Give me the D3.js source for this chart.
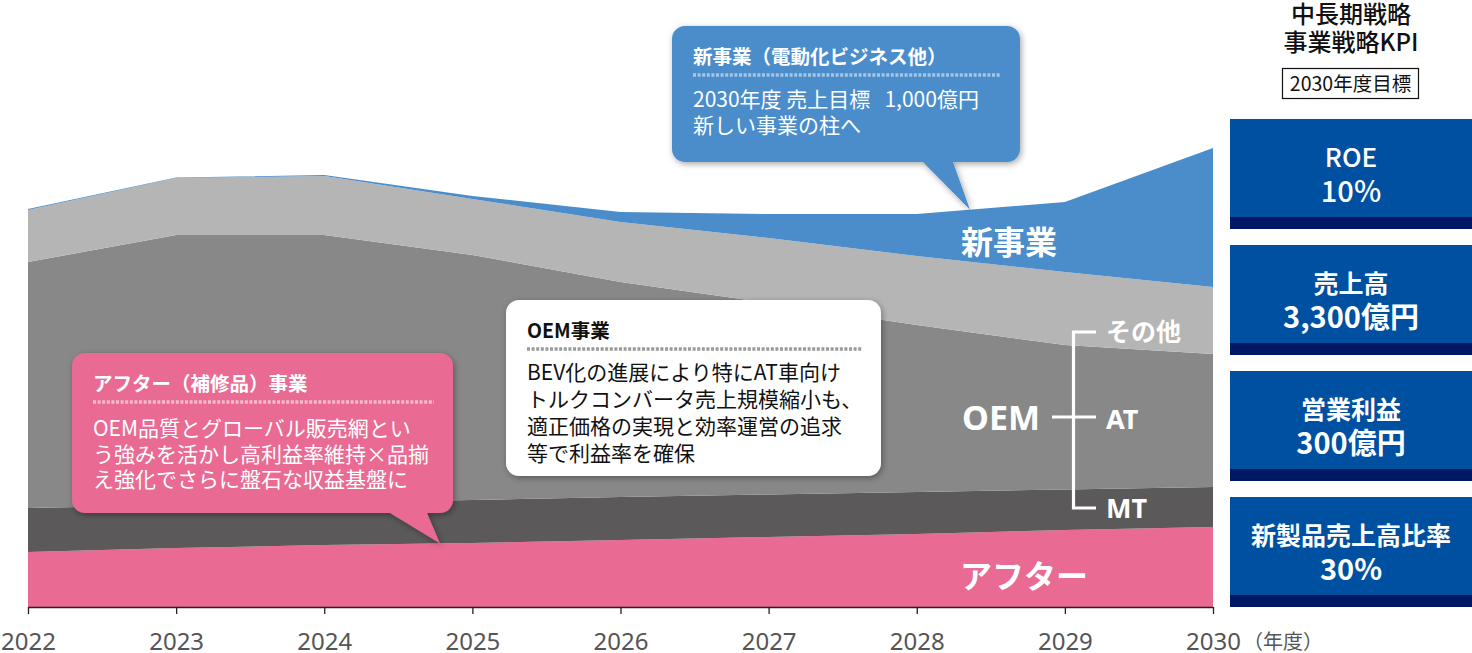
<!DOCTYPE html>
<html>
<head>
<meta charset="utf-8">
<script src="https://cdn.jsdelivr.net/npm/d3@7"></script>
<style>
  html, body { margin: 0; padding: 0; background: #fff; }
  svg { display: block; font-family: "Noto Sans CJK JP", "Noto Sans", sans-serif; }
</style>
</head>
<body>
<svg id="chart" width="1472" height="653"></svg>
<script>
// ---------------- DATA ----------------
const years = [2022, 2023, 2024, 2025, 2026, 2027, 2028, 2029, 2030];
const afterVals  = [55, 59, 62, 64, 67, 70, 73, 77, 80];          // アフター
const mtVals     = [44, 43, 42.5, 43, 43, 42.5, 42, 40.5, 40];    // MT
const atVals     = [246, 270, 267.5, 245, 215, 191.5, 167, 144.5, 133]; // AT
const otherVals  = [52, 57, 59, 56, 60, 65, 69, 73, 67];          // その他
const newBizVals = [1, 0.5, 1, 3, 10, 24, 42, 70, 139];           // 新事業
const seriesKeys = ["after", "mt", "at", "other", "newbiz"];
const seriesColors = ["#E96A93", "#5B5959", "#888888", "#B4B5B4", "#4B8DCB"];
const tickLabels = ["2022", "2023", "2024", "2025", "2026", "2027", "2028", "2029", "2030"];
const axisUnit = "（年度）";

const kpiTitle = ["中長期戦略", "事業戦略KPI"];
const kpiTarget = "2030年度目標";
const kpiNames = ["ROE", "売上高", "営業利益", "新製品売上高比率"];
const kpiValues = ["10%", "3,300億円", "300億円", "30%"];

const newBizTitle = "新事業（電動化ビジネス他）";
const newBizLines = ["2030年度 売上目標\u00a0\u00a0\u00a01,000億円", "新しい事業の柱へ"];
const oemTitle = "OEM事業";
const oemLines = ["BEV化の進展により特にAT車向け", "トルクコンバータ売上規模縮小も、", "適正価格の実現と効率運営の追求", "等で利益率を確保"];
const afterTitle = "アフター（補修品）事業";
const afterLines = ["OEM品質とグローバル販売網とい", "う強みを活かし高利益率維持×品揃", "え強化でさらに盤石な収益基盤に"];

// ---------------- SETUP ----------------
const svg = d3.select("#chart");
const x = d3.scaleLinear().domain([2022, 2030]).range([28, 1213]);
const y = d3.scaleLinear().domain([0, 460]).range([607, 147]);

const table = years.map((yr, i) => ({
  year: yr, after: afterVals[i], mt: mtVals[i], at: atVals[i], other: otherVals[i], newbiz: newBizVals[i]
}));
const stack = d3.stack().keys(seriesKeys)(table);

const defs = svg.append("defs");
const shadow = defs.append("filter").attr("id", "shadow")
  .attr("x", "-10%").attr("y", "-10%").attr("width", "120%").attr("height", "130%");
shadow.append("feDropShadow").attr("dx", 1.5).attr("dy", 2).attr("stdDeviation", 3)
  .attr("flood-color", "#000").attr("flood-opacity", 0.35);

// ---------------- AREAS ----------------
const area = d3.area()
  .x(d => x(d.data.year))
  .y0(d => y(d[0]))
  .y1(d => y(d[1]));

svg.append("g").selectAll("path")
  .data(stack)
  .join("path")
  .attr("d", area)
  .attr("fill", (d, i) => seriesColors[i]);

// top value of a layer at arbitrary x (pixel)
function layerTopAt(layerIdx, px) {
  const yr = x.invert(px);
  const i = Math.min(years.length - 2, Math.max(0, Math.floor(yr - 2022)));
  const t = yr - years[i];
  const a = stack[layerIdx][i][1], b = stack[layerIdx][i + 1][1];
  return y(a + (b - a) * t);
}

// ---------------- AXIS ----------------
const axis = d3.axisBottom(x)
  .tickValues(years)
  .tickFormat((d, i) => tickLabels[i])
  .tickSize(7)
  .tickSizeOuter(0);
const gx = svg.append("g").attr("transform", "translate(0,607)").call(axis);
gx.select(".domain").attr("stroke", "#222").attr("stroke-width", 1.3);
gx.selectAll(".tick line").attr("stroke", "#222").attr("stroke-width", 1.3);
gx.selectAll(".tick text")
  .attr("y", 26)
  .attr("dy", "0.71em")
  .attr("fill", "#555")
  .style("font-family", "'Noto Sans', sans-serif")
  .style("font-size", "24px");
svg.append("text").attr("x", 1243).attr("y", 649)
  .attr("fill", "#555").style("font-size", "20px").text(axisUnit);

// ---------------- IN-CHART LABELS ----------------
function label(txt, px, py, size) {
  svg.append("text").attr("x", px).attr("y", py)
    .attr("fill", "#fff").attr("font-weight", "bold")
    .style("font-size", size + "px").text(txt);
}
label("新事業", 961, 254, 32);
label("アフター", 960, 588, 32);
svg.append("text").attr("x", 962).attr("y", 430).attr("fill", "#fff")
  .attr("font-weight", "bold").style("font-family", "'Noto Sans', sans-serif")
  .style("font-size", "34px").text("OEM");
label("その他", 1106, 341, 25);
svg.append("text").attr("x", 1106).attr("y", 429).attr("fill", "#fff").attr("font-weight", "bold")
  .style("font-family", "'Noto Sans', sans-serif").style("font-size", "27px").text("AT");
svg.append("text").attr("x", 1106).attr("y", 518).attr("fill", "#fff").attr("font-weight", "bold")
  .style("font-family", "'Noto Sans', sans-serif").style("font-size", "27px").text("MT");

const br = svg.append("g").attr("stroke", "#fff").attr("stroke-width", 3.2).attr("fill", "none");
br.append("path").attr("d", "M1096,332 H1073.5 V508 H1096");
br.append("path").attr("d", "M1052,417 H1096");

// ---------------- CALLOUTS ----------------
function calloutPath(bx, by, w, h, r, tail) {
  let p = `M${bx + r},${by} H${bx + w - r} A${r},${r} 0 0 1 ${bx + w},${by + r} V${by + h - r} A${r},${r} 0 0 1 ${bx + w - r},${by + h}`;
  if (tail) {
    p += ` H${tail.x2} L${tail.tx},${tail.ty} L${tail.x1},${by + h}`;
  }
  p += ` H${bx + r} A${r},${r} 0 0 1 ${bx},${by + h - r} V${by + r} A${r},${r} 0 0 1 ${bx + r},${by} Z`;
  return p;
}

function callout(opt) {
  const g = svg.append("g");
  g.append("path")
    .attr("d", calloutPath(opt.x, opt.y, opt.w, opt.h, 13, opt.tail))
    .attr("fill", opt.fill)
    .attr("filter", "url(#shadow)");
  g.append("text").attr("x", opt.tx).attr("y", opt.titleY)
    .attr("fill", opt.textColor).attr("font-weight", "bold")
    .style("font-size", "19.5px").text(opt.title);
  g.append("line").attr("x1", opt.tx).attr("x2", opt.x + opt.w - 19)
    .attr("y1", opt.titleY + 11).attr("y2", opt.titleY + 11)
    .attr("stroke", opt.dotColor).attr("stroke-width", 3.5)
    .attr("stroke-dasharray", "3,1.6");
  g.append("g").selectAll("text").data(opt.lines).join("text")
    .attr("x", opt.tx)
    .attr("y", (d, i) => opt.bodyY + i * opt.lh)
    .attr("fill", opt.textColor)
    .style("font-size", opt.size + "px")
    .text(d => d);
}

callout({
  x: 672, y: 26, w: 348, h: 136, fill: "#4B8DCB", textColor: "#fff", dotColor: "rgba(255,255,255,0.5)",
  tail: { x1: 923, x2: 953, tx: 970, ty: layerTopAt(4, 970) },
  tx: 693, titleY: 64, title: newBizTitle, bodyY: 107, lh: 25.5, size: 21, lines: newBizLines
});
callout({
  x: 506, y: 300, w: 375, h: 176, fill: "#fff", textColor: "#111", dotColor: "#9a9a9a",
  tail: null,
  tx: 527, titleY: 338, title: oemTitle, bodyY: 380, lh: 27, size: 21, lines: oemLines
});
callout({
  x: 72, y: 353, w: 381, h: 160, fill: "#E96A93", textColor: "#fff", dotColor: "rgba(255,255,255,0.55)",
  tail: { x1: 390, x2: 427, tx: 440, ty: layerTopAt(0, 440) },
  tx: 93, titleY: 391, title: afterTitle, bodyY: 436, lh: 25.5, size: 21, lines: afterLines
});

// ---------------- KPI PANEL ----------------
const kx = 1351;
svg.append("g").selectAll("text").data(kpiTitle).join("text")
  .attr("x", kx).attr("y", (d, i) => 23 + i * 28)
  .attr("text-anchor", "middle").attr("fill", "#111").attr("font-weight", 500)
  .style("font-size", "24px").text(d => d);
svg.append("rect").attr("x", 1282.5).attr("y", 68.5).attr("width", 136).attr("height", 30)
  .attr("fill", "#fff").attr("stroke", "#111").attr("stroke-width", 1.2);
svg.append("text").attr("x", 1350.5).attr("y", 91).attr("text-anchor", "middle")
  .attr("fill", "#111").style("font-size", "19.5px").text(kpiTarget);

const kpiY = d3.scaleBand().domain(d3.range(kpiNames.length)).range([119, 607]).paddingInner(16 / 126).paddingOuter(0);
const kg = svg.append("g").selectAll("g").data(kpiNames).join("g")
  .attr("transform", (d, i) => `translate(1230,${kpiY(i)})`);
kg.append("rect").attr("width", 242).attr("height", kpiY.bandwidth()).attr("fill", "#0050A1");
kg.append("rect").attr("y", kpiY.bandwidth() - 12).attr("width", 242).attr("height", 12).attr("fill", "#001864");
kg.append("text").attr("x", 121).attr("y", 48).attr("text-anchor", "middle")
  .attr("fill", "#fff").attr("font-weight", (d, i) => i === 0 ? 500 : "bold")
  .style("font-size", (d, i) => i === 0 ? "26px" : "25px")
  .text(d => d);
kg.append("text").attr("x", 121).attr("y", 83).attr("text-anchor", "middle")
  .attr("fill", "#fff").attr("font-weight", (d, i) => i === 0 ? 500 : "bold")
  .style("font-size", "29px")
  .text((d, i) => kpiValues[i]);
</script>
</body>
</html>
